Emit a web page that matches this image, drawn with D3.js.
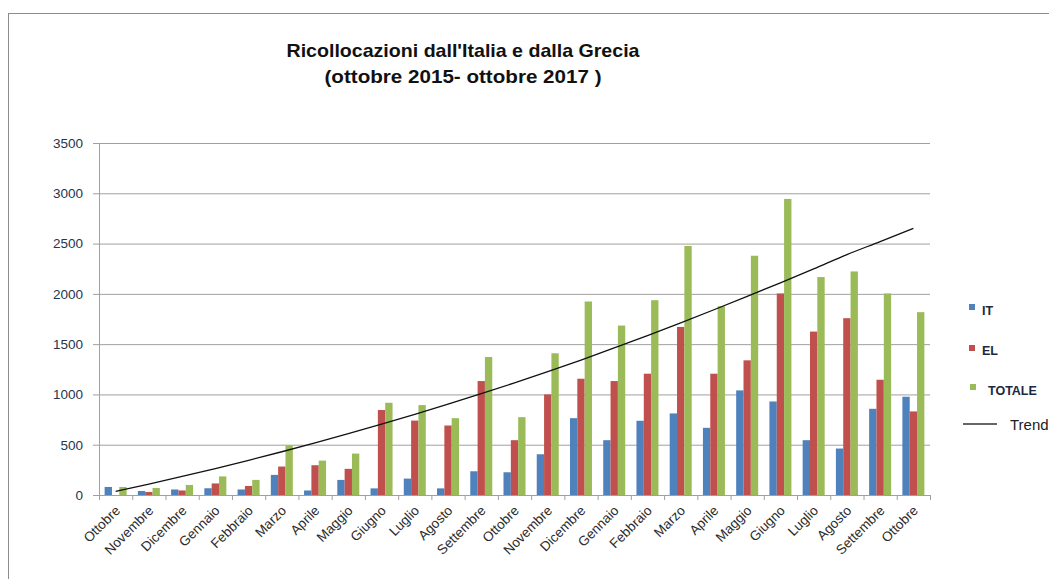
<!DOCTYPE html>
<html>
<head>
<meta charset="utf-8">
<script src="https://cdn.jsdelivr.net/npm/d3@7"></script>
<style>
  html, body { margin: 0; padding: 0; background: #fff; }
  svg { display: block; }
</style>
</head>
<body>
<svg id="chart" width="1049" height="579"></svg>
<script>
const categories = ["Ottobre","Novembre","Dicembre","Gennaio","Febbraio","Marzo","Aprile","Maggio","Giugno","Luglio","Agosto","Settembre","Ottobre","Novembre","Dicembre","Gennaio","Febbraio","Marzo","Aprile","Maggio","Giugno","Luglio","Agosto","Settembre","Ottobre"];
const IT     = [80, 40, 55, 67, 55, 200, 45, 150, 66, 163, 66, 236, 226, 405, 764, 545, 738, 811, 668, 1040, 930, 545, 462, 857, 977];
const EL     = [0, 30, 45, 115, 90, 283, 296, 260, 845, 740, 691, 1133, 545, 1000, 1156, 1133, 1206, 1671, 1206, 1339, 2004, 1625, 1758, 1146, 831];
const TOTALE = [80, 70, 100, 185, 150, 495, 342, 412, 917, 894, 764, 1372, 774, 1409, 1924, 1685, 1937, 2476, 1877, 2379, 2944, 2167, 2223, 2004, 1818];
const TREND  = [37, 109, 185, 263, 345, 430, 518, 610, 704, 802, 903, 1007, 1115, 1227, 1342, 1462, 1585, 1712, 1842, 1975, 2110, 2248, 2390, 2520, 2652];
const yTicks = [0, 500, 1000, 1500, 2000, 2500, 3000, 3500];
const seriesNames = ["IT", "EL", "TOTALE"];
const titleLines = ["Ricollocazioni dall'Italia e dalla Grecia", "(ottobre 2015- ottobre 2017 )"];

const colors = { IT: "#4F81BD", EL: "#C0504D", TOTALE: "#9BBB59" };
const seriesData = { IT: IT, EL: EL, TOTALE: TOTALE };

const svg = d3.select("#chart");
svg.append("rect").attr("width", 1049).attr("height", 579).attr("fill", "#fff");
// outer frame
svg.append("rect").attr("x", 8.5).attr("y", 13.5).attr("width", 1100).attr("height", 700)
  .attr("fill", "none").attr("stroke", "#8c8c8c").attr("stroke-width", 1);

const L = 99, R = 930, T = 143, B = 495;
const idx = d3.range(categories.length);

const x = d3.scaleBand().domain(idx).range([L, R]).paddingInner(0.338).paddingOuter(0.169);
const xs = d3.scaleBand().domain(seriesNames).range([0, x.bandwidth()]);
const xb = d3.scaleLinear().domain([0, categories.length]).range([L, R]);
const y = d3.scaleLinear().domain([0, 3500]).range([B, T]);

// gridlines
svg.append("g").attr("transform", `translate(${L},0)`)
  .call(d3.axisLeft(y).tickValues(yTicks.slice(1)).tickSize(-(R - L)).tickFormat(""))
  .call(g => g.select(".domain").remove())
  .call(g => g.selectAll("line").attr("stroke", "#a0a0a0").attr("stroke-width", 1));

// y axis
svg.append("g").attr("transform", `translate(${L},0)`)
  .call(d3.axisLeft(y).tickValues(yTicks).tickFormat(d3.format("d")).tickSizeInner(6).tickSizeOuter(0).tickPadding(10))
  .call(g => g.select(".domain").attr("stroke", "#a0a0a0"))
  .call(g => g.selectAll("line").attr("stroke", "#a0a0a0"))
  .call(g => g.selectAll("text").attr("font-family", "'Liberation Sans', Arial, sans-serif")
    .attr("font-size", 13.5).attr("fill", "#26344f"));

// bars
const groups = svg.append("g").selectAll("g").data(idx).join("g")
  .attr("transform", i => `translate(${x(i)},0)`);
groups.selectAll("rect").data(i => seriesNames.map(s => ({ s, v: seriesData[s][i] }))).join("rect")
  .attr("x", d => xs(d.s))
  .attr("width", xs.bandwidth())
  .attr("y", d => y(d.v))
  .attr("height", d => B - y(d.v))
  .attr("fill", d => colors[d.s]);

// x axis boundary ticks
svg.append("g").attr("transform", `translate(0,${B})`)
  .call(d3.axisBottom(xb).tickValues(d3.range(categories.length + 1)).tickSize(5).tickFormat(""))
  .call(g => g.select(".domain").attr("stroke", "#a0a0a0"))
  .call(g => g.selectAll("line").attr("stroke", "#a0a0a0"));

// x labels (axis already places ticks at band centers)
svg.append("g").attr("transform", `translate(0,${B})`)
  .call(d3.axisBottom(x).tickSize(0).tickFormat(i => categories[i]))
  .call(g => g.select(".domain").remove())
  .call(g => g.selectAll("text")
    .attr("x", 0).attr("y", 0).attr("dy", "0.35em")
    .attr("transform", "translate(2,13) rotate(-45)")
    .style("text-anchor", "end")
    .attr("font-family", "'Liberation Sans', Arial, sans-serif")
    .attr("font-size", 13.5).attr("fill", "#2b2b2b"));

// trend line
const line = d3.line().x((d, i) => x(i) + x.bandwidth() / 2).y(d => y(d)).curve(d3.curveMonotoneX);
svg.append("path").datum(TREND).attr("d", line)
  .attr("fill", "none").attr("stroke", "#111").attr("stroke-width", 1.3);

// title
const title = svg.append("g").attr("font-family", "'Liberation Sans', Arial, sans-serif")
  .attr("font-weight", "bold").attr("fill", "#111").attr("text-anchor", "middle");
title.append("text").attr("x", 463).attr("y", 57).attr("font-size", 19)
  .attr("textLength", 353).attr("lengthAdjust", "spacingAndGlyphs").text(titleLines[0]);
title.append("text").attr("x", 463).attr("y", 83).attr("font-size", 19)
  .attr("textLength", 277).attr("lengthAdjust", "spacingAndGlyphs").text(titleLines[1]);

// legend
const leg = svg.append("g").attr("font-family", "'Liberation Sans', Arial, sans-serif");
const legItems = [
  { s: "IT", sx: 969, sy: 304, tx: 982, ty: 315 },
  { s: "EL", sx: 969, sy: 345, tx: 982, ty: 355 },
  { s: "TOTALE", sx: 970, sy: 384, tx: 988, ty: 395 }
];
legItems.forEach(d => {
  leg.append("rect").attr("x", d.sx).attr("y", d.sy).attr("width", 6).attr("height", 6).attr("fill", colors[d.s]);
  leg.append("text").attr("x", d.tx).attr("y", d.ty).attr("font-size", 12.5).attr("font-weight", "bold")
    .attr("fill", "#1c2740").text(d.s);
});
leg.append("line").attr("x1", 963).attr("x2", 997).attr("y1", 424).attr("y2", 424)
  .attr("stroke", "#333").attr("stroke-width", 1.3);
leg.append("text").attr("x", 1010).attr("y", 430).attr("font-size", 15).attr("fill", "#222").text("Trend");
</script>
</body>
</html>
